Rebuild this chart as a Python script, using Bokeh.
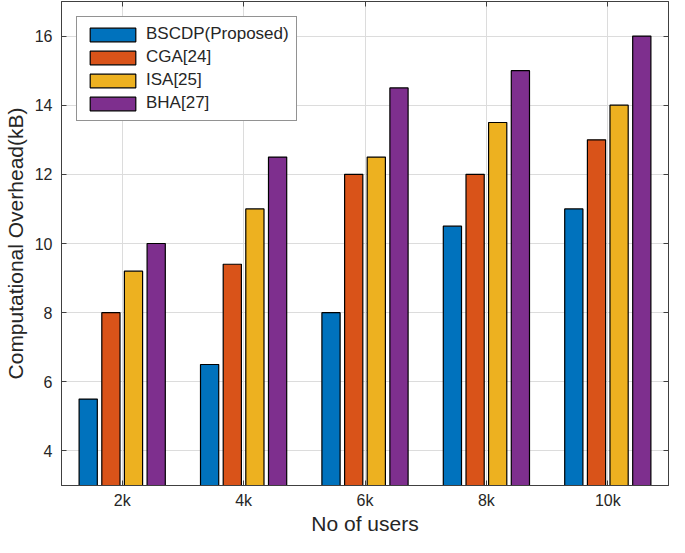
from bokeh.plotting import figure
from bokeh.models import Range1d, ColumnDataSource, LinearAxis, FixedTicker, Legend, LegendItem
from bokeh.transform import dodge
from bokeh.embed import file_html
from bokeh.resources import INLINE

users = ["2k", "4k", "6k", "8k", "10k"]
series_names = ["BSCDP(Proposed)", "CGA[24]", "ISA[25]", "BHA[27]"]
bscdp = [5.5, 6.5, 8.0, 10.5, 11.0]
cga = [8.0, 9.4, 12.0, 12.0, 13.0]
isa = [9.2, 11.0, 12.5, 13.5, 14.0]
bha = [10.0, 12.5, 14.5, 15.0, 16.0]
y_ticks = [4, 6, 8, 10, 12, 14, 16]

colors = ["#0072BD", "#D95319", "#EDB120", "#7E2F8E"]
offsets = [-0.28, -0.093, 0.093, 0.28]
FONT = "Liberation Sans"
TXT = "#262626"
AXC = "#404040"

xpos = list(range(1, len(users) + 1))
src = ColumnDataSource(dict(xpos=xpos, bscdp=bscdp, cga=cga, isa=isa, bha=bha))

p = figure(width=669, height=537, x_range=Range1d(0.5, len(users) + 0.5),
           y_range=Range1d(3, 17), output_backend="svg", toolbar_location=None,
           min_border_left=0, min_border_right=1, min_border_top=1, min_border_bottom=0)

renderers = []
for col, c, off in zip(["bscdp", "cga", "isa", "bha"], colors, offsets):
    r = p.vbar(x=dodge("xpos", off), top=col, bottom=3, width=0.15,
               source=src, fill_color=c, line_color="black", line_width=1.2)
    renderers.append(r)

legend = Legend(items=[LegendItem(label=n, renderers=[r]) for n, r in zip(series_names, renderers)],
                location="top_left", margin=15, padding=7, spacing=3,
                glyph_width=57, glyph_height=17, label_text_font=FONT,
                label_text_font_size="17px", label_text_color=TXT, label_standoff=5,
                border_line_color="#262626", border_line_width=1.2,
                background_fill_color="white", background_fill_alpha=1)
p.add_layout(legend, "center")

p.yaxis.ticker = FixedTicker(ticks=y_ticks)
p.xaxis.ticker = FixedTicker(ticks=xpos)
p.xaxis.major_label_overrides = {x: u for x, u in zip(xpos, users)}
p.xaxis.axis_label = "No of users"
p.yaxis.axis_label = "Computational Overhead(kB)"
for ax in [p.xaxis[0], p.yaxis[0]]:
    ax.axis_label_text_font = FONT
    ax.axis_label_text_font_size = "21px"
    ax.axis_label_text_font_style = "normal"
    ax.axis_label_text_color = TXT
    ax.major_label_text_font = FONT
    ax.major_label_text_font_size = "16px"
    ax.major_label_text_color = TXT
    ax.major_tick_in = 5
    ax.major_tick_out = 0
    ax.minor_tick_in = 0
    ax.minor_tick_out = 0
    ax.axis_line_color = AXC
    ax.major_tick_line_color = AXC
p.xaxis.major_label_standoff = 6
p.xaxis.axis_label_standoff = 0
p.yaxis.major_label_standoff = 9
p.yaxis.axis_label_standoff = 5

# mirrored tick marks (box on): minor ticks only, no labels
mirror_kw = dict(major_tick_in=0, major_tick_out=0, minor_tick_in=5, minor_tick_out=0,
                 axis_line_color=AXC, minor_tick_line_color=AXC,
                 major_label_standoff=0, axis_label_standoff=0)
rax = LinearAxis(ticker=FixedTicker(ticks=[], minor_ticks=y_ticks), **mirror_kw)
p.add_layout(rax, "right")
tax = LinearAxis(ticker=FixedTicker(ticks=[], minor_ticks=xpos), **mirror_kw)
p.add_layout(tax, "above")

p.xgrid.grid_line_color = "#dcdcdc"
p.ygrid.grid_line_color = "#dcdcdc"
p.outline_line_color = AXC
p.background_fill_color = "white"

open("out.html", "w").write(file_html(p, INLINE))
